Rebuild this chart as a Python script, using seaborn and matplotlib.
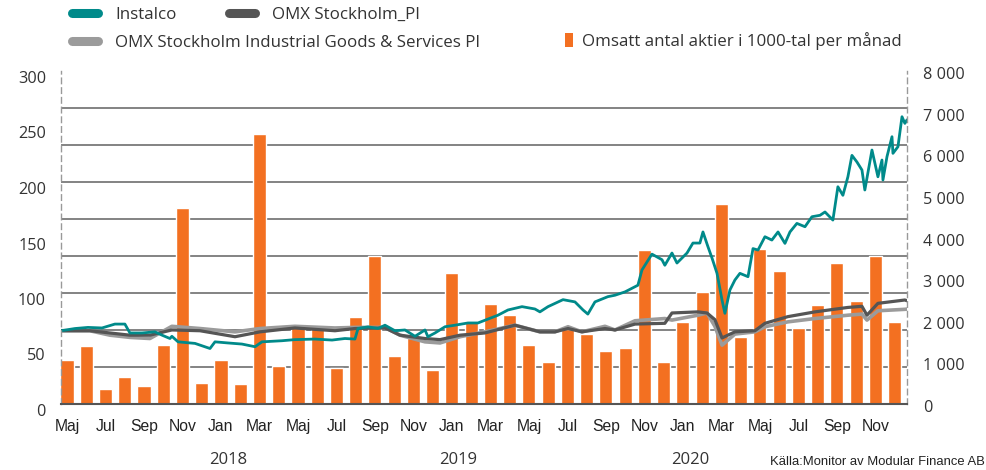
import numpy as np
import pandas as pd
import matplotlib
matplotlib.use("Agg")
import matplotlib.pyplot as plt
import matplotlib.transforms as mtransforms
from matplotlib.lines import Line2D
from matplotlib.patches import Patch
import seaborn as sns

# ---------------- data ----------------
months = list(pd.period_range("2017-05", "2020-12", freq="M").strftime("%Y-%m"))
tick_labels = ["Maj", "Jul", "Sep", "Nov", "Jan", "Mar", "Maj", "Jul", "Sep", "Nov",
               "Jan", "Mar", "Maj", "Jul", "Sep", "Nov", "Jan", "Mar", "Maj", "Jul",
               "Sep", "Nov"]
year_labels = ["2018", "2019", "2020"]
year_pos = [8.4, 20.3, 32.4]

# monthly traded volume (thousands of shares)
volume = [1060, 1394, 361, 649, 433, 1418, 4712, 505, 1058, 481, 6490, 913,
          1923, 1827, 873, 2091, 3565, 1154, 1594, 817, 3149, 1995, 2404, 2139,
          1418, 1010, 1803, 1683, 1274, 1346, 3702, 1010, 1971, 2692, 4808, 1610,
          3726, 3197, 1827, 2380, 3389, 2476, 3565, 1971]

# position in months from May 2017 (0 = May 2017)
instalco_x = [-0.31, 0.42, 1.09, 1.82, 2.49, 3.01, 3.27, 3.90, 4.57, 4.94, 5.35,
              5.45, 5.77, 6.65, 7.43, 7.69, 8.36, 9.09, 9.77, 10.13, 11.17, 11.84,
              12.88, 13.77, 14.44, 14.96, 15.12, 15.64, 16.16, 16.52, 17.04, 17.56,
              18.08, 18.60, 18.75, 19.12, 19.64, 20.16, 20.83, 21.35, 21.87, 22.39,
              22.91, 23.64, 24.31, 24.57, 24.99, 25.77, 26.39, 26.81, 27.06, 27.43,
              28.10, 28.47, 28.99, 29.66, 29.87, 30.39, 30.91, 31.06, 31.43, 31.69,
              32.21, 32.52, 32.88, 33.04, 33.30, 33.51, 33.77, 34.03, 34.18, 34.44,
              34.70, 34.96, 35.38, 35.64, 35.90, 36.26, 36.62, 36.94, 37.30, 37.56,
              37.92, 38.34, 38.70, 39.12, 39.38, 39.79, 40.05, 40.31, 40.57, 40.78,
              41.04, 41.30, 41.45, 41.82, 42.13, 42.34, 42.39, 42.60, 42.86, 42.91,
              43.17, 43.38, 43.53, 43.64]
instalco_y = [66, 68, 69, 68.5, 72, 72, 64, 64, 65, 62, 59,
              61, 56, 54.6, 50, 56, 55, 54, 51.6, 56, 57, 58,
              58.5, 57.6, 59, 58.5, 68, 69.5, 68, 71, 66, 66.7,
              61, 66.7, 60.6, 64, 69.6, 71, 73, 73, 76.5, 80,
              84.7, 87.7, 85.6, 83, 87.7, 94, 92, 84.7, 81, 92,
              96.7, 98, 101, 107, 120.7, 135, 130, 125, 136, 127,
              136, 145, 145, 155, 141.7, 131.5, 117.7, 93.7, 81.7, 102.7,
              111.7, 117.7, 114.7, 140, 138.7, 150.7, 147.7, 155, 144.7, 155,
              162.7, 159.7, 168.7, 170, 173, 165.7, 195.7, 188, 204.7, 224,
              218, 210.8, 192.8, 228.8, 204.7, 219.8, 201.8, 222.8, 240.8, 225.8,
              231.8, 258.8, 252.8, 256]

index_x = [-0.31, 1.19, 2.23, 3.27, 4.31, 5.45, 6.91, 8.73, 10.03, 11.84, 13.92,
           14.96, 16.52, 17.30, 18.60, 19.38, 20.42, 21.71, 23.27, 24.57, 25.35,
           26.03, 26.75, 27.95, 28.47, 29.51, 31.06, 31.43, 32.78, 33.25, 33.66,
           34.03, 34.70, 35.74, 36.26, 37.45, 38.86, 40.57, 41.30, 41.56, 42.13,
           43.53, 43.64]
omx_pi_y = [66, 66, 64, 62, 62, 66.7, 66, 60.6, 65, 68.5, 66,
            68, 68.5, 62, 59, 58, 62, 64, 71, 65, 65,
            68, 65, 68, 66.7, 72, 72.7, 82, 83, 82, 76,
            59.5, 65, 66, 72.7, 78.7, 83, 87, 88, 80, 90.7,
            93.7, 93]
omx_ind_y = [66, 66, 62, 60, 59, 70, 68, 65, 68, 70, 68.5,
             69, 69, 62, 56, 55, 60.6, 65, 71, 65, 65,
             69.6, 65, 70, 66.7, 75, 77, 75.6, 80, 82, 70,
             53, 63, 65, 69.6, 74, 77, 80, 81, 75.6, 84,
             85.3, 85.5]

# ---------------- style ----------------
TEAL = "#008A8A"
DARK = "#555555"
LIGHT = "#9B9B9B"
ORANGE = "#F37021"
TXT = "#333333"

sns.set_theme(style="white")
plt.rcParams["font.family"] = ["Open Sans", "DejaVu Sans"]

W, H = 987, 470
fig = plt.figure(figsize=(W / 100, H / 100), dpi=100)
L, R, T, B = 61, 907, 71, 404
ax = fig.add_axes([L / W, 1 - B / H, (R - L) / W, (B - T) / H])
ax2 = ax.twinx()
ax.set_zorder(ax2.get_zorder() + 1)
ax.patch.set_visible(False)

# bars (right axis)
df_bar = pd.DataFrame({"month": months, "volume": volume})
sns.barplot(data=df_bar, x="month", y="volume", order=months, color=ORANGE,
            saturation=1, width=0.68, errorbar=None, ax=ax2, zorder=2)
ax2.set_ylim(0, 8000)
ax2.set_yticks(range(0, 8001, 1000))
ax2.set_yticklabels([f"{v:,}".replace(",", " ") for v in range(0, 8001, 1000)],
                    fontsize=11.7, color=TXT)
ax2.set_yticks(np.linspace(0, 8000, 10), minor=True)
ax2.grid(False)
ax2.grid(which="minor", axis="y", color="#7a7a7a", lw=1.3)
ax2.set_axisbelow(True)
ax2.tick_params(axis="y", which="both", length=0, pad=11.5)
ax2.set_ylabel("")
for s in ax2.spines.values():
    s.set_visible(False)
off_r = mtransforms.ScaledTranslation(0, -2 / 100, fig.dpi_scale_trans)
for t in ax2.yaxis.get_major_ticks():
    t.label2.set_transform(t.label2.get_transform() + off_r)

# lines (left axis)
sns.lineplot(x=index_x, y=omx_ind_y, ax=ax, color=LIGHT, lw=2.6)
sns.lineplot(x=index_x, y=omx_pi_y, ax=ax, color=DARK, lw=2.3)
sns.lineplot(x=instalco_x, y=instalco_y, ax=ax, color=TEAL, lw=2.0)

ax.set_xlim(-0.31, 43.64)
ax.set_ylim(0, 300)
ax.set_yticks(range(0, 301, 50))
ax.set_yticklabels([str(v) for v in range(0, 301, 50)], fontsize=11.7, color=TXT)
ax.tick_params(axis="y", length=0, pad=10.8)
ax.set_xticks(range(0, 44, 2))
ax.set_xticklabels(tick_labels, fontsize=11.3, color="#222222",
                   fontfamily=["Liberation Sans", "DejaVu Sans"])
ax.tick_params(axis="x", length=0, pad=11)
ax.set_xlabel("")
ax.set_ylabel("")
ax.grid(False)

off = mtransforms.ScaledTranslation(0, -6 / 100, fig.dpi_scale_trans)
for t in ax.yaxis.get_major_ticks():
    t.label1.set_transform(t.label1.get_transform() + off)

ax.spines["top"].set_visible(False)
for side in ("left", "right"):
    ax.spines[side].set_linestyle((0, (4, 3)))
    ax.spines[side].set_color("#999999")
    ax.spines[side].set_linewidth(1.0)
ax.spines["bottom"].set_color("#555555")
ax.spines["bottom"].set_linewidth(1.5)

for lab, pos in zip(year_labels, year_pos):
    ax.text(pos, -0.168, lab, transform=ax.get_xaxis_transform(), ha="center",
            va="center", fontsize=12, color=TXT)

fig.text(985 / W, 1 - 462 / H, "Källa:Monitor av Modular Finance AB", ha="right",
         va="center", fontsize=9.4, color="#222222",
         family=["Liberation Sans", "DejaVu Sans"])

# legend (four single-item legends)
FS = 12.2
fs_px = FS * 100 / 72


def add_leg(handle, label, x_px, y_px, hl, pad, hh=0.7):
    leg = fig.legend(handles=[handle], labels=[label], loc="center left",
                     bbox_to_anchor=(x_px / W, 1 - y_px / H), frameon=False,
                     borderpad=0, borderaxespad=0, handlelength=hl,
                     handleheight=hh, handletextpad=pad, fontsize=FS)
    for t in leg.get_texts():
        t.set_color(TXT)
    return leg


line_len = 26 / fs_px
tpad = (115 - 71.5 - 26) / fs_px
add_leg(Line2D([], [], color=TEAL, lw=6.5, solid_capstyle="round"), "Instalco",
        71.5, 15, line_len, tpad)
add_leg(Line2D([], [], color=DARK, lw=6.5, solid_capstyle="round"), "OMX Stockholm_PI",
        229.5, 15, line_len, (272 - 229.5 - 26) / fs_px)
add_leg(Line2D([], [], color=LIGHT, lw=6.5, solid_capstyle="round"),
        "OMX Stockholm Industrial Goods & Services PI", 71.5, 43, line_len, tpad)
add_leg(Patch(facecolor=ORANGE, edgecolor="none"),
        "Omsatt antal aktier i 1000-tal per månad", 565, 41, 8 / fs_px,
        9 / fs_px, hh=16 / fs_px)

fig.savefig("out.png", dpi=100)
